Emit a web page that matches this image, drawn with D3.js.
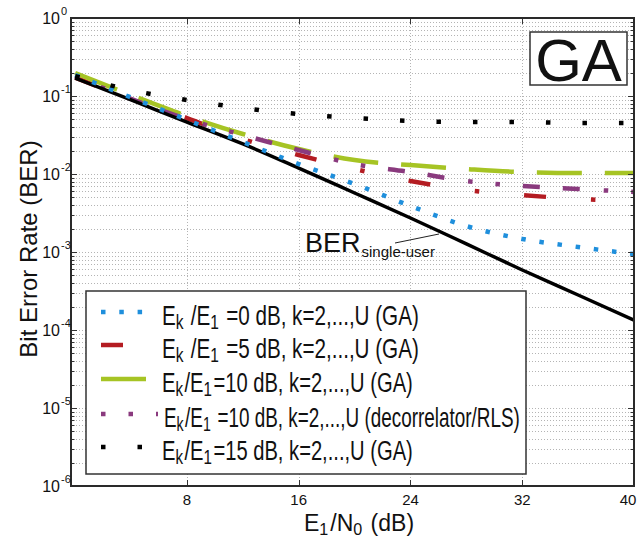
<!DOCTYPE html>
<html>
<head>
<meta charset="utf-8">
<script src="https://cdn.jsdelivr.net/npm/d3@7"></script>
<style>
  body { margin: 0; background: #fff; }
  text { font-family: "Liberation Sans", Arial, sans-serif; fill: #111; }
</style>
</head>
<body>
<svg id="chart" width="640" height="538"></svg>
<script>
// E1/N0 sample points (dB)
const snrDb = [0, 4, 8, 12, 16, 20, 24, 28, 32, 36, 40];

// Bit error rates per scenario
const berSingleUser = [0.170, 0.0889, 0.0464, 0.0243, 0.0119, 0.00571, 0.00273, 0.00127, 0.000588, 0.000281, 0.000134];
const berGa0dB      = [0.186, 0.0956, 0.0494, 0.0257, 0.0134, 0.00744, 0.00389, 0.00215, 0.00147, 0.00116, 0.00094];
const berGa5dB      = [0.172, 0.0916, 0.0522, 0.0281, 0.0175, 0.0116, 0.00813, 0.00624, 0.00538, 0.00478, 0.00451];
const berGa10dB     = [0.197, 0.103, 0.0554, 0.0326, 0.0209, 0.0151, 0.0130, 0.0116, 0.0106, 0.0103, 0.0103];
const berRls10dB    = [0.178, 0.0916, 0.0507, 0.0316, 0.0203, 0.0134, 0.0106, 0.00813, 0.00702, 0.00642, 0.00588];
const berGa15dB     = [0.180, 0.119, 0.0889, 0.0702, 0.0588, 0.0522, 0.0478, 0.0464, 0.0464, 0.0451, 0.0451];

// Axis ticks
const xTickValues = [8, 16, 24, 32, 40];
const yTickExponents = [0, -1, -2, -3, -4, -5, -6];

// Legend entries: [text, isSubscript] pieces
const legendTexts = [
  [["E", 0], ["k", 1], [" /E", 0], ["1", 1], [" =0 dB, k=2,...,U (GA)", 0]],
  [["E", 0], ["k", 1], [" /E", 0], ["1", 1], [" =5 dB, k=2,...,U (GA)", 0]],
  [["E", 0], ["k", 1], ["/E", 0], ["1", 1], ["=10 dB, k=2,...,U (GA)", 0]],
  [["E", 0], ["k", 1], ["/E", 0], ["1", 1], [" =10 dB, k=2,...,U (decorrelator/RLS)", 0]],
  [["E", 0], ["k", 1], ["/E", 0], ["1", 1], ["=15 dB, k=2,...,U (GA)", 0]]
];

const series = [
  { data: berGa5dB,   color: "#b41c22", dash: "22,45,4.5,45",               width: 4.5 },
  { data: berGa10dB,  color: "#a6c424", dash: "45,23",                      width: 4.5 },
  { data: berRls10dB, color: "#8a3a7e", dash: "4.5,23,4.5,23,17,23,17,24",  width: 4.5 },
  { data: berSingleUser, color: "#000", dash: null,                         width: 3.5 },
  { data: berGa0dB,   color: "#1f8fdc", dash: "4.5,13.8",                   width: 4.5 },
  { data: berGa15dB,  color: "#000",    dash: "4.5,32",                     width: 4.5 }
];
// legend order: 0 dB, 5 dB, 10 dB, 10 dB RLS, 15 dB
const legendSeries = [4, 0, 1, 2, 5];

const svg = d3.select("#chart");
const frame = { left: 71, right: 634, top: 18, bottom: 486 };

const x = d3.scaleLinear().domain([-0.3, 40]).range([frame.left, frame.right]);
const y = d3.scaleLog().domain([1e-6, 1]).range([frame.bottom, frame.top]);

svg.append("rect").attr("width", 640).attr("height", 538).attr("fill", "#fff");

// grid
const grid = svg.append("g").attr("stroke", "#b4b4b4").attr("stroke-width", 1)
  .attr("stroke-dasharray", "1,2").attr("fill", "none");
const minorVals = [];
for (let e = -6; e < 0; e++) for (let m = 1; m < 10; m++) minorVals.push(m * Math.pow(10, e));
minorVals.push(1);
grid.selectAll("line.h").data(minorVals).join("line")
  .attr("x1", frame.left + 2).attr("x2", frame.right)
  .attr("y1", d => Math.round(y(d)) + 0.5).attr("y2", d => Math.round(y(d)) + 0.5);
grid.selectAll("line.v").data(xTickValues.filter(v => v < 40)).join("line")
  .attr("x1", d => Math.round(x(d)) + 0.5).attr("x2", d => Math.round(x(d)) + 0.5)
  .attr("y1", frame.top).attr("y2", frame.bottom);

// curves
svg.append("clipPath").attr("id", "plotClip").append("rect")
  .attr("x", frame.left).attr("y", frame.top)
  .attr("width", frame.right - frame.left).attr("height", frame.bottom - frame.top);

const line = d3.line()
  .x((d, i) => x(snrDb[i]))
  .y(d => y(d))
  .curve(d3.curveMonotoneX);

const curves = svg.append("g").attr("clip-path", "url(#plotClip)");
series.forEach(s => {
  curves.append("path")
    .attr("d", line(s.data))
    .attr("fill", "none")
    .attr("stroke", s.color)
    .attr("stroke-width", s.width)
    .attr("stroke-dasharray", s.dash)
    .attr("stroke-linecap", "butt");
});

// ticks (inward on all sides)
const ticks = svg.append("g").attr("stroke", "#333").attr("stroke-width", 1);
minorVals.forEach(v => {
  const major = Math.abs(Math.log10(v) - Math.round(Math.log10(v))) < 1e-9;
  const len = major ? 6 : 3.5;
  const yy = Math.round(y(v)) + 0.5;
  ticks.append("line").attr("x1", frame.left).attr("x2", frame.left + len).attr("y1", yy).attr("y2", yy);
  ticks.append("line").attr("x1", frame.right).attr("x2", frame.right - len).attr("y1", yy).attr("y2", yy);
});
xTickValues.forEach(v => {
  const xx = Math.round(x(v)) + 0.5;
  ticks.append("line").attr("x1", xx).attr("x2", xx).attr("y1", frame.bottom).attr("y2", frame.bottom - 6);
  ticks.append("line").attr("x1", xx).attr("x2", xx).attr("y1", frame.top).attr("y2", frame.top + 6);
});

// frame
svg.append("rect")
  .attr("x", frame.left).attr("y", frame.top)
  .attr("width", frame.right - frame.left).attr("height", frame.bottom - frame.top)
  .attr("fill", "none").attr("stroke", "#2a2a2a").attr("stroke-width", 2);

// y tick labels: 10^e
yTickExponents.forEach(e => {
  const yy = y(Math.pow(10, e));
  svg.append("text").attr("x", 60).attr("y", yy + 6)
    .attr("text-anchor", "end").attr("font-size", 16).text("10");
  svg.append("text").attr("x", 61).attr("y", yy - 3)
    .attr("font-size", 11).text(e === 0 ? "0" : "-" + Math.abs(e));
});

// x tick labels
xTickValues.forEach(v => {
  svg.append("text").attr("x", x(v) - (v === 40 ? 6 : 0)).attr("y", frame.bottom + 19)
    .attr("text-anchor", "middle").attr("font-size", 15).text(v);
});

// helper for text with subscripts
function richText(sel, parts, subScale, subDy) {
  parts.forEach(([t, sub], i) => {
    const ts = sel.append("tspan").text(t);
    if (sub) ts.attr("font-size", subScale + "em").attr("dy", subDy);
    else if (i > 0 && parts[i - 1][1]) ts.attr("dy", -subDy).attr("dx", 2);
  });
}

// axis titles
svg.append("text")
  .attr("transform", "translate(37,249) rotate(-90)")
  .attr("text-anchor", "middle").attr("font-size", 24)
  .text("Bit Error Rate (BER)");

const xTitle = svg.append("text").attr("x", 359).attr("y", 531)
  .attr("text-anchor", "middle").attr("font-size", 23);
richText(xTitle, [["E", 0], ["1", 1], ["/N", 0], ["0", 1], [" (dB)", 0]], 0.7, 4);

// single-user annotation
const berLabel = svg.append("text").attr("x", 305).attr("y", 252).attr("font-size", 27);
berLabel.append("tspan").text("BER");
berLabel.append("tspan").attr("font-size", 15).attr("dx", 1).attr("dy", 5).text("single-user");
svg.append("line").attr("x1", 395).attr("y1", 243).attr("x2", 439).attr("y2", 234)
  .attr("stroke", "#222").attr("stroke-width", 1);

// GA badge
svg.append("rect").attr("x", 530).attr("y", 32).attr("width", 97).attr("height", 53)
  .attr("fill", "#fff").attr("stroke", "#333").attr("stroke-width", 1.5);
svg.append("text").attr("x", 578.5).attr("y", 81).attr("text-anchor", "middle")
  .attr("font-size", 60).text("GA");

// legend
const legend = svg.append("g");
legend.append("rect").attr("x", 86).attr("y", 291).attr("width", 440).attr("height", 183)
  .attr("fill", "#fff").attr("stroke", "#333").attr("stroke-width", 1.5);
const rowBase = [325, 358, 392, 427, 460];
const rowStart = [162, 162, 162, 164, 162];
const rowEnd = [419, 419, 413, 520, 413];
legendSeries.forEach((si, r) => {
  const s = series[si];
  const ly = rowBase[r] - 13;
  legend.append("line")
    .attr("x1", 101).attr("x2", r === 3 ? 158 : 146)
    .attr("y1", ly).attr("y2", ly)
    .attr("stroke", s.color).attr("stroke-width", s.width)
    .attr("stroke-dasharray", s.dash);
  const g = legend.append("g");
  const t = g.append("text").attr("x", 0).attr("y", 0).attr("font-size", 27);
  richText(t, legendTexts[r], 0.75, 4);
  const w = t.node().getBBox().width;
  const sx = (rowEnd[r] - rowStart[r]) / w;
  g.attr("transform", `translate(${rowStart[r]},${rowBase[r]}) scale(${sx},1)`);
});
</script>
</body>
</html>
